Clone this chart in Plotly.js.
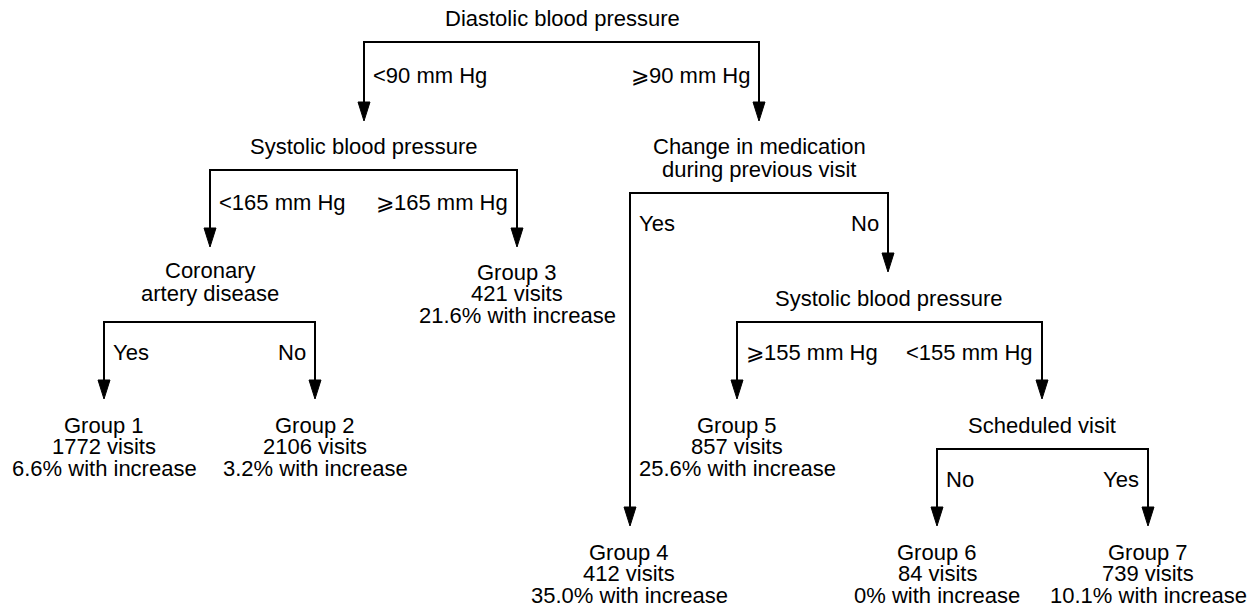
<!DOCTYPE html>
<html>
<head>
<meta charset="utf-8">
<script src="https://cdn.plot.ly/plotly-3.0.1.min.js"></script>
<style>html,body{margin:0;padding:0;background:#fff;}#chart{width:1248px;height:609px;}</style>
</head>
<body>
<div id="chart"></div>
<script>
// ---- Data ----
const splitTitles = [
  ["Diastolic blood pressure"],
  ["Systolic blood pressure"],
  ["Change in medication", "during previous visit"],
  ["Coronary", "artery disease"],
  ["Systolic blood pressure"],
  ["Scheduled visit"]
];
const leftBranchLabels  = ["<90 mm Hg", "<165 mm Hg", "Yes", "Yes", "\u2A7E155 mm Hg", "No"];
const rightBranchLabels = ["\u2A7E90 mm Hg", "\u2A7E165 mm Hg", "No", "No", "<155 mm Hg", "Yes"];
const groupNames = ["Group 1", "Group 2", "Group 3", "Group 4", "Group 5", "Group 6", "Group 7"];
const groupVisits = [1772, 2106, 421, 412, 857, 84, 739];
const groupPctIncrease = ["6.6", "3.2", "21.6", "35.0", "25.6", "0", "10.1"];

// ---- Layout of the tree (pixel positions on a 1248x609 canvas) ----
const splitPos = [
  {cx: 562, ty: 18,  bar: 42,  xl: 364, xr: 759,  tipL: 121, tipR: 121, ly: 75},
  {cx: 363, ty: 146, bar: 170, xl: 210, xr: 517,  tipL: 247, tipR: 247, ly: 202},
  {cx: 759, ty: 146, bar: 193, xl: 630, xr: 888,  tipL: 526, tipR: 272, ly: 223},
  {cx: 210, ty: 270, bar: 322, xl: 104, xr: 315,  tipL: 399, tipR: 399, ly: 352},
  {cx: 888, ty: 298, bar: 322, xl: 737, xr: 1042, tipL: 399, tipR: 399, ly: 352},
  {cx: 1042,ty: 425, bar: 449, xl: 937, xr: 1148, tipL: 526, tipR: 526, ly: 479}
];
const groupPos = [
  {x: 104, y: 425}, {x: 315, y: 425}, {x: 517, y: 272}, {x: 629, y: 552},
  {x: 737, y: 425}, {x: 937, y: 552}, {x: 1148, y: 552}
];
const LINE_H = 21.5, FONT = 22, HEAD_W = 6, HEAD_H = 19, LBL_PAD = 7;

const fontSpec = {family: "Liberation Sans, Arial, Helvetica, sans-serif", size: FONT, color: "#000"};
const annotations = [];
const shapes = [];
function txt(x, y, text, anchor) {
  annotations.push({x: x, y: y, xref: "x", yref: "y", text: text, showarrow: false,
    xanchor: anchor || "center", yanchor: "middle", font: fontSpec});
}
function esc(s) { return s.replace(/&/g, "&amp;").replace(/</g, "&lt;").replace(/>/g, "&gt;"); }

splitPos.forEach((p, i) => {
  splitTitles[i].forEach((line, k) => txt(p.cx, p.ty + k * 23, esc(line)));
  // connector line
  const path = `M ${p.xl},${p.tipL - HEAD_H} L ${p.xl},${p.bar} L ${p.xr},${p.bar} L ${p.xr},${p.tipR - HEAD_H}`;
  shapes.push({type: "path", xref: "x", yref: "y", path: path, line: {color: "#000", width: 2}});
  // arrow heads
  [[p.xl, p.tipL], [p.xr, p.tipR]].forEach(([x, y]) => {
    shapes.push({type: "path", xref: "x", yref: "y",
      path: `M ${x - HEAD_W},${y - HEAD_H} L ${x + HEAD_W},${y - HEAD_H} L ${x},${y} Z`,
      fillcolor: "#000", line: {color: "#000", width: 1}});
  });
  txt(p.xl + LBL_PAD, p.ly, esc(leftBranchLabels[i]), "left");
  txt(p.xr - LBL_PAD, p.ly, esc(rightBranchLabels[i]), "right");
});

groupPos.forEach((g, i) => {
  txt(g.x, g.y, groupNames[i]);
  txt(g.x, g.y + LINE_H, groupVisits[i] + " visits");
  txt(g.x, g.y + 2 * LINE_H, groupPctIncrease[i] + "% with increase");
});

const layout = {
  width: 1248, height: 609,
  margin: {l: 0, r: 0, t: 0, b: 0},
  paper_bgcolor: "#fff", plot_bgcolor: "#fff",
  xaxis: {range: [0, 1248], visible: false, fixedrange: true},
  yaxis: {range: [609, 0], visible: false, fixedrange: true},
  showlegend: false,
  shapes: shapes,
  annotations: annotations
};
Plotly.newPlot("chart", [{x: [], y: [], type: "scatter", mode: "markers"}], layout, {displayModeBar: false, staticPlot: true});
</script>
</body>
</html>
